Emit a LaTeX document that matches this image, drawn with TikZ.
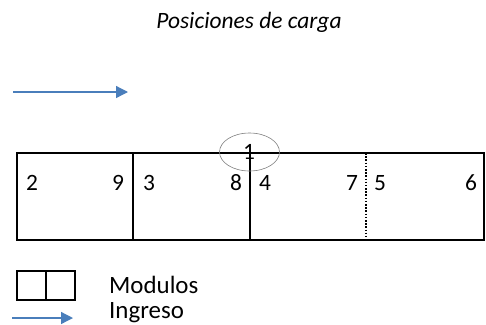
\documentclass[tikz,border=0pt]{standalone}
\usepackage{fontspec}
\setmainfont{Carlito}
\usetikzlibrary{arrows.meta}
\definecolor{arrblue}{HTML}{4A7EBB}
\tikzset{
  frame/.style={line width=1.8pt},
  numlbl/.style={font=\fontsize{23.5}{26}\selectfont, inner sep=0pt},
  txtlbl/.style={font=\fontsize{25}{28}\selectfont, inner sep=0pt, anchor=west},
  ingarrow/.style={draw=arrblue, line width=1.3pt, -{Triangle[length=12bp,width=12bp]}},
}
\begin{document}
\begin{tikzpicture}[x=1bp,y=-1bp]
\useasboundingbox (0,0) rectangle (486,324);
\node[font=\itshape\fontsize{23.5}{28}\selectfont, inner sep=0pt] (title) at (249,22) {Posiciones de carga};
% top arrow
\coordinate (a1) at (13,92);
\coordinate (a2) at (128,92);
\draw[ingarrow] (a1) -- (a2);
% main rectangle
\coordinate (tl) at (17,153);
\coordinate (br) at (484,240);
\draw[frame] (tl) rectangle (br);
\coordinate (v1t) at (133,153); \coordinate (v1b) at (133,240);
\coordinate (v2t) at (250,153); \coordinate (v2b) at (250,240);
\coordinate (v3t) at (366,153); \coordinate (v3b) at (366,240);
\draw[frame] (v1t) -- (v1b);
\draw[frame] (v2t) -- (v2b);
\draw[line width=1.8pt, dash pattern=on 1.6pt off 1.6pt] (v3t) -- (v3b);
% ellipse
\draw[gray, line width=0.6pt] (249.5,152) ellipse [x radius=30, y radius=19];
\node[numlbl] (n1) at (249,152) {1};
\node[numlbl] (n2) at (32,183) {2};
\node[numlbl] (n9) at (118,183) {9};
\node[numlbl] (n3) at (149,183) {3};
\node[numlbl] (n8) at (236,183) {8};
\node[numlbl] (n4) at (265,183) {4};
\node[numlbl] (n7) at (352,183) {7};
\node[numlbl] (n5) at (380,183) {5};
\node[numlbl] (n6) at (471,183) {6};
% legend
\draw[frame] (17,271) rectangle (75,300);
\draw[frame] (46,271) -- (46,300);
\node[txtlbl] (mod) at (109,285) {Modulos};
\coordinate (b1) at (12,318);
\coordinate (b2) at (73,318);
\draw[ingarrow] (b1) -- (b2);
\node[txtlbl] (ing) at (109,313) {Ingreso};
\end{tikzpicture}
\end{document}
